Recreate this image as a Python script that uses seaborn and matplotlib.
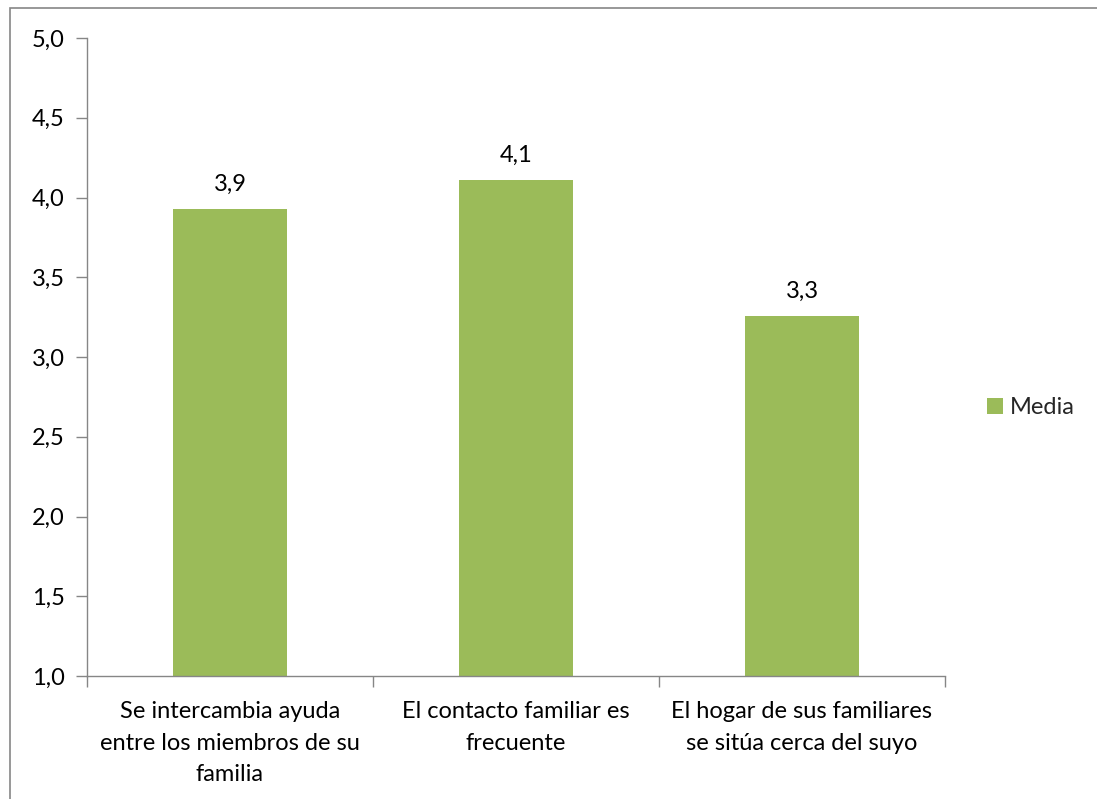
import matplotlib
matplotlib.use("Agg")
import matplotlib.pyplot as plt
import seaborn as sns
import pandas as pd
from matplotlib.patches import Rectangle, Patch

categories = ["Se intercambia ayuda\nentre los miembros de su\nfamilia",
              "El contacto familiar es\nfrecuente",
              "El hogar de sus familiares\nse sitúa cerca del suyo"]
values = [3.93, 4.11, 3.26]
labels = ["3,9", "4,1", "3,3"]
yticks = [1.0, 1.5, 2.0, 2.5, 3.0, 3.5, 4.0, 4.5, 5.0]
series_name = "Media"

sns.set_theme(style="white")
plt.rcParams['font.family'] = ['Lato', 'DejaVu Sans']

FS = 17
W, H = 1097, 799
fig = plt.figure(figsize=(W / 100, H / 100), dpi=100)
ax = fig.add_axes([87 / W, 1 - 676 / H, (945 - 87) / W, (676 - 38) / H])

df = pd.DataFrame({"cat": categories, "val": values})
sns.barplot(data=df, x="cat", y="val", color="#9BBB59", width=0.4,
            saturation=1, ax=ax)
for p in ax.patches:
    p.set_edgecolor("none")

ax.set_ylim(1.0, 5.0)
ax.set_xlim(-0.5, 2.5)
ax.set_yticks(yticks)
ax.set_yticklabels([f"{t:.1f}".replace(".", ",") for t in yticks], fontsize=FS, color="#000000")
ax.set_xticks([-0.5, 0.5, 1.5, 2.5], minor=False)
ax.set_xticklabels([])
ax.set_xticks([0, 1, 2], minor=True)
ax.set_xticklabels(categories, minor=True, fontsize=FS, linespacing=1.62, color="#000000")
ax.tick_params(axis="x", which="minor", length=0, pad=18)
ax.tick_params(axis="x", which="major", length=8, width=1, color="#868686", direction="out")
ax.tick_params(axis="y", length=8, width=1, color="#868686", direction="out", pad=8)
ax.xaxis.set_ticks_position("bottom")
ax.yaxis.set_ticks_position("left")
ax.set_xlabel("")
ax.set_ylabel("")
for s in ["top", "right"]:
    ax.spines[s].set_visible(False)
for s in ["left", "bottom"]:
    ax.spines[s].set_color("#868686")
    ax.spines[s].set_linewidth(1)

for i, (v, lab) in enumerate(zip(values, labels)):
    ax.annotate(lab, (i, v), xytext=(0, 10), textcoords="offset points",
                ha="center", va="bottom", fontsize=FS, color="#000000")

leg = fig.legend(handles=[Patch(facecolor="#9BBB59", edgecolor="none", label=series_name)],
                 loc="center left", bbox_to_anchor=(966 / W, 1 - 408 / H),
                 frameon=False, fontsize=FS, handlelength=0.65, handleheight=0.65,
                 handletextpad=0.3)

fig.patches.append(Rectangle((10 / W, -0.01), 1.1, 1 - 8 / H + 0.01,
                             transform=fig.transFigure, fill=False,
                             edgecolor="#868686", linewidth=1.2))

fig.savefig("out.png", dpi=100)
